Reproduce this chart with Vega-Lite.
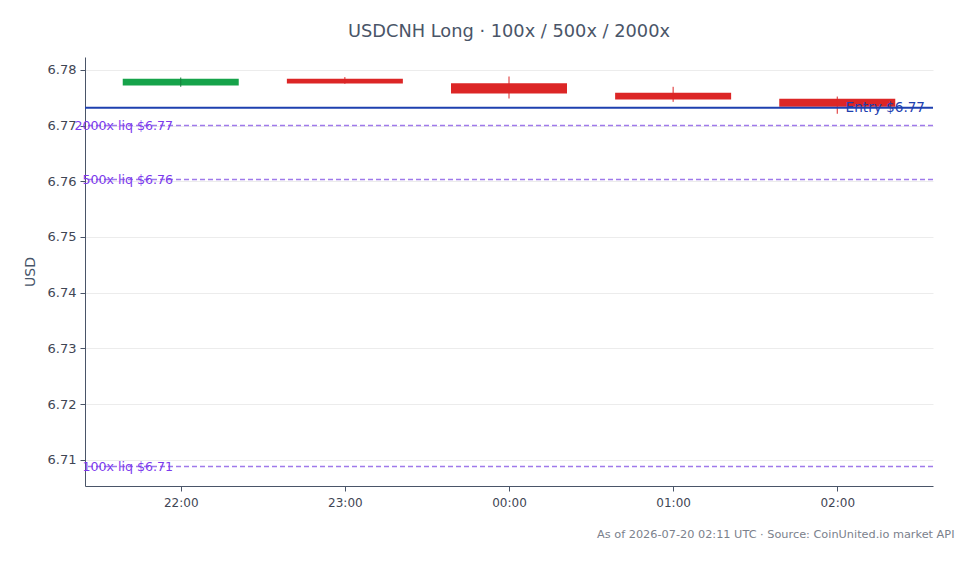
{
  "$schema": "https://vega.github.io/schema/vega-lite/v6.json",
  "autosize": {"type": "none"},
  "width": 848,
  "height": 429,
  "padding": {"left": 85, "top": 57, "right": 45, "bottom": 78},
  "background": "white",
  "config": {
    "font": "DejaVu Sans",
    "view": {"stroke": null},
    "axis": {
      "labelFont": "DejaVu Sans",
      "titleFont": "DejaVu Sans",
      "labelFontSize": 13,
      "labelColor": "#3f4654",
      "domainColor": "#4a5568",
      "tickColor": "#4a5568",
      "domainWidth": 1,
      "tickSize": 5
    }
  },
  "title": {
    "text": "USDCNH Long · 100x / 500x / 2000x",
    "fontSize": 17.8,
    "fontWeight": "normal",
    "color": "#4a5568",
    "anchor": "middle",
    "offset": 16
  },
  "datasets": {
    "candles": [
      {"t": 1784498400000, "open": 6.77718, "high": 6.77862, "low": 6.77695, "close": 6.77838},
      {"t": 1784502000000, "open": 6.77838, "high": 6.77869, "low": 6.77749, "close": 6.77754},
      {"t": 1784505600000, "open": 6.7776, "high": 6.7788, "low": 6.77485, "close": 6.77574},
      {"t": 1784509200000, "open": 6.77587, "high": 6.77695, "low": 6.77425, "close": 6.77469},
      {"t": 1784512800000, "open": 6.77479, "high": 6.7752, "low": 6.77211, "close": 6.77336}
    ],
    "liqs": [
      {"label": "2000x liq $6.77", "price": 6.7700},
      {"label": "500x liq $6.76", "price": 6.7603},
      {"label": "100x liq $6.71", "price": 6.7088}
    ],
    "entry": [
      {"label": "Entry $6.77", "price": 6.7732}
    ]
  },
  "layer": [
    {
      "data": {"name": "candles"},
      "mark": {"type": "bar", "size": 116},
      "encoding": {
        "x": {
          "field": "t",
          "type": "temporal",
          "scale": {"type": "utc", "domain": [1784496300000, 1784514900000], "nice": false, "padding": 0},
          "axis": {
            "labelExpr": "utcFormat(datum.value, '%H:%M')",
            "values": [1784498400000, 1784502000000, 1784505600000, 1784509200000, 1784512800000],
            "grid": false,
            "labelPadding": 6,
            "labelFontSize": 12,
            "title": "As of 2026-07-20 02:11 UTC · Source: CoinUnited.io market API",
            "titleFontSize": 11.3,
            "titleFontWeight": "normal",
            "titleColor": "#7b818c",
            "titleAlign": "right",
            "titleAnchor": "end",
            "titleX": 869,
            "titleY": 48,
            "titleBaseline": "middle"
          }
        },
        "y": {
          "field": "open",
          "type": "quantitative",
          "scale": {"domain": [6.7053, 6.7823], "nice": false, "zero": false},
          "axis": {
            "values": [6.71, 6.72, 6.73, 6.74, 6.75, 6.76, 6.77, 6.78],
            "format": ".2f",
            "grid": true,
            "gridColor": "#ececec",
            "title": "USD",
            "titleFontSize": 14,
            "titleFontWeight": "normal",
            "titleColor": "#475569",
            "titlePadding": 10,
            "labelPadding": 4
          }
        },
        "y2": {"field": "close"},
        "color": {
          "condition": {"test": "datum.close > datum.open", "value": "#16a34a"},
          "value": "#dc2626"
        }
      }
    },
    {
      "data": {"name": "candles"},
      "mark": {"type": "rule", "strokeWidth": 1},
      "encoding": {
        "x": {"field": "t", "type": "temporal"},
        "y": {"field": "low", "type": "quantitative"},
        "y2": {"field": "high"},
        "color": {
          "condition": {"test": "datum.close > datum.open", "value": "#15803d"},
          "value": "#dc2626"
        }
      }
    },
    {
      "data": {"name": "entry"},
      "mark": {"type": "rule", "color": "#1e40af", "strokeWidth": 2},
      "encoding": {
        "y": {"field": "price", "type": "quantitative"}
      }
    },
    {
      "data": {"name": "liqs"},
      "mark": {"type": "rule", "color": "#9f7aea", "strokeWidth": 1.5, "strokeDash": [5, 3]},
      "encoding": {
        "y": {"field": "price", "type": "quantitative"}
      }
    },
    {
      "data": {"name": "liqs"},
      "mark": {"type": "text", "align": "right", "baseline": "middle", "dx": 88, "fontSize": 12.6, "color": "#7c3aed"},
      "encoding": {
        "x": {"datum": 1784496300000, "type": "temporal"},
        "y": {"field": "price", "type": "quantitative"},
        "text": {"field": "label"}
      }
    },
    {
      "data": {"name": "entry"},
      "mark": {"type": "text", "align": "right", "baseline": "middle", "dx": -8, "fontSize": 13.6, "color": "#1e40af"},
      "encoding": {
        "x": {"datum": 1784514900000, "type": "temporal"},
        "y": {"field": "price", "type": "quantitative"},
        "text": {"field": "label"}
      }
    }
  ]
}
